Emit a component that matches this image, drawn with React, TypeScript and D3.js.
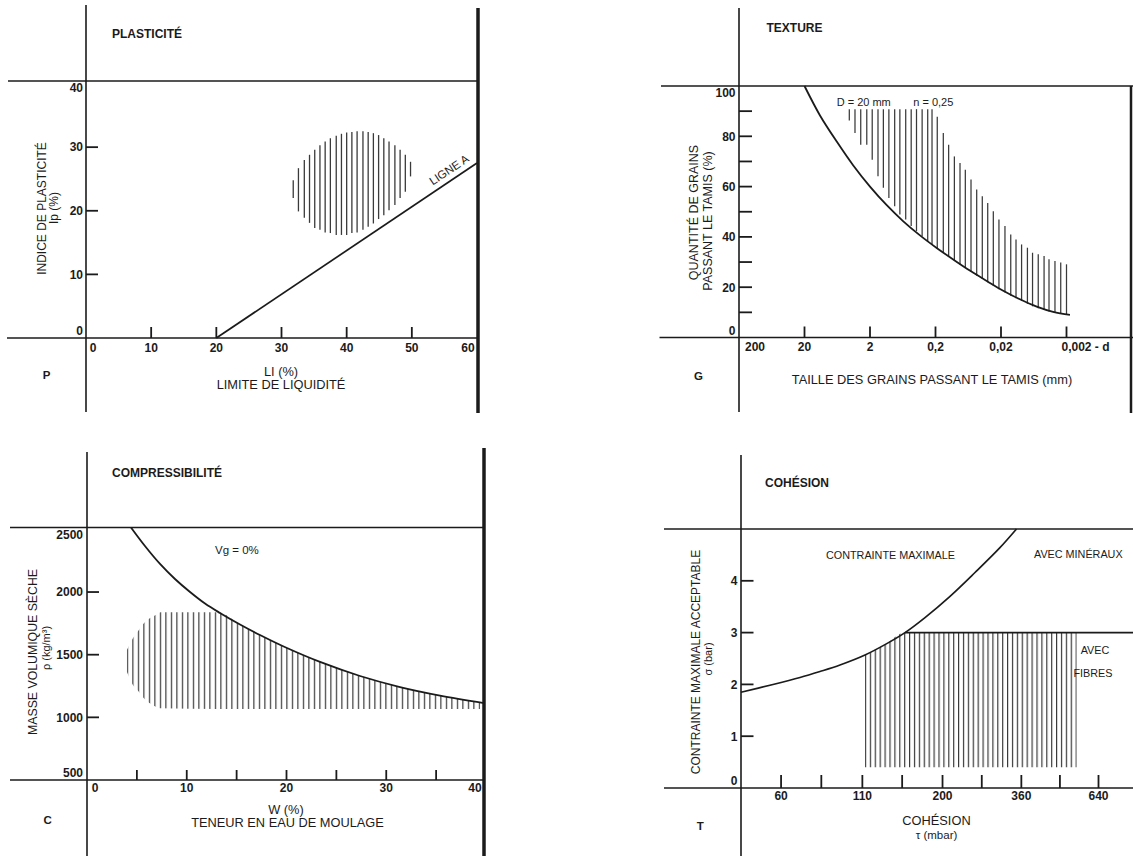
import React from "react";
import * as d3 from "d3";

const FONT = "'Liberation Sans', Arial, Helvetica, sans-serif";
const INK = "#1b1b1b";
const HATCH_INK = "#3a3a3a";

// ===== P : PLASTICITÉ =====
const plastXTicks = [0, 10, 20, 30, 40, 50, 60];
const plastYTicks = [0, 10, 20, 30, 40];
const plastLigneALL = [20, 60];
const plastLigneAIp = [0, 27.5];
const plastHatchLL = [31.8, 32.6, 33.5, 34.3, 35.1, 35.9, 36.7, 37.5, 38.4, 39.2, 40.0, 40.8, 41.6, 42.5, 43.3, 44.1, 44.9, 45.7, 46.5, 47.4, 48.2, 49.0, 49.8];
const plastHatchTop = [24.8, 26.7, 28.0, 28.8, 29.6, 30.3, 30.9, 31.4, 31.8, 32.1, 32.3, 32.4, 32.5, 32.5, 32.4, 32.2, 31.9, 31.4, 30.9, 30.3, 29.6, 28.8, 27.7];
const plastHatchBottom = [22.0, 19.9, 18.9, 18.1, 17.3, 17.0, 16.6, 16.5, 16.2, 16.2, 16.2, 16.5, 16.6, 17.0, 17.5, 18.0, 18.7, 19.3, 20.1, 20.9, 22.0, 23.0, 25.4];

// ===== G : TEXTURE =====
const textureXTicks = [200, 20, 2, 0.2, 0.02, 0.002];
const textureXLabels = ["200", "20", "2", "0,2", "0,02", "0,002 - d"];
const textureYMajor = [0, 20, 40, 60, 80, 100];
const textureYMinor = [10, 30, 50, 70, 90];
const textureCurveD = [20, 11.6, 6.4, 3.6, 2.0, 1.11, 0.62, 0.345, 0.192, 0.107, 0.059, 0.033, 0.0185, 0.0103, 0.0057, 0.0032, 0.00177];
const textureCurveP = [100, 88.3, 77.8, 68.4, 60.0, 52.6, 46.2, 40.6, 35.6, 31.0, 26.5, 22.5, 18.6, 15.2, 12.3, 10.2, 9.0];
const textureHatchD = [4.14, 3.39, 2.77, 2.24, 1.85, 1.51, 1.25, 1.03, 0.84, 0.70, 0.57, 0.47, 0.39, 0.32, 0.263, 0.226, 0.188, 0.152, 0.126, 0.103, 0.0845, 0.0701, 0.0574, 0.047, 0.0386, 0.0319, 0.0262, 0.0215, 0.0174, 0.0142, 0.0118, 0.0097, 0.0079, 0.0066, 0.0054, 0.0044, 0.0037, 0.0030, 0.00245, 0.0020];
const textureHatchTop = [90.8, 90.8, 90.8, 90.8, 90.8, 90.8, 90.8, 90.8, 90.8, 90.8, 90.8, 90.8, 90.8, 90.8, 90.8, 90.8, 87.8, 81.3, 76.6, 72.0, 69.4, 66.7, 62.8, 58.8, 56.2, 53.5, 50.2, 46.9, 44.3, 41.0, 39.0, 37.0, 35.7, 33.7, 33.1, 32.4, 31.1, 30.4, 29.8, 29.1];
const textureHatchBottom = [86.3, 81.3, 76.6, 76.6, 70.7, 64.1, 59.5, 55.5, 52.2, 48.9, 46.9, 44.3, 42.3, 40.3, 38.3, 37.0, 35.5, 33.7, 32.2, 30.6, 29.0, 27.6, 26.0, 24.6, 23.3, 22.0, 20.6, 19.2, 17.9, 16.6, 15.6, 14.5, 13.4, 12.4, 11.6, 10.9, 10.3, 9.8, 9.4, 9.2];

// ===== C : COMPRESSIBILITÉ =====
const compXMajor = [0, 10, 20, 30, 40];
const compXMinor = [5, 15, 25, 35];
const compYTicks = [500, 1000, 1500, 2000, 2500];
const compCurveW = [4.41, 5.81, 7.32, 8.82, 10.33, 11.83, 13.33, 15.34, 17.34, 20.05, 23.36, 27.37, 31.38, 35.39, 39.8];
const compCurveRho = [2515, 2367, 2224, 2104, 2000, 1908, 1833, 1741, 1657, 1553, 1442, 1330, 1242, 1174, 1114];
const compHatchW = [4.0, 4.6, 5.2, 5.7, 6.3, 6.9, 7.4, 13.1, 15.34, 17.34, 20.05, 23.36, 27.37, 31.38, 35.39, 39.4];
const compHatchTop = [1537, 1631, 1697, 1750, 1790, 1817, 1838, 1838, 1741, 1657, 1553, 1442, 1330, 1242, 1174, 1120];
const compHatchBottom = [1364, 1258, 1205, 1152, 1112, 1085, 1072, 1067, 1067, 1067, 1067, 1067, 1067, 1067, 1067, 1067];

// ===== T : COHÉSION =====
const cohXTicks = [60, 110, 200, 360, 640];
const cohXMinor = [81, 148, 268, 480];
const cohYTicks = [0, 1, 2, 3, 4];
const cohCurveTau = [44.5, 55.2, 69.1, 80.2, 93.1, 112.2, 130.2, 151.2, 175.5, 211.5, 254.8, 306.9, 347.2];
const cohCurveSigma = [1.848, 1.983, 2.133, 2.249, 2.375, 2.568, 2.768, 3.0, 3.29, 3.70, 4.16, 4.64, 5.0];
const cohFibreTau = [151.2, 830];
const cohFibreSigma = [3, 3];
const cohHatchTau = [112.2, 130.2, 151.2, 544];
const cohHatchTop = [2.568, 2.768, 3.0, 3.0];
const cohHatchBottom = [0.4, 0.4, 0.4, 0.4];

type P2 = [number, number];
type P3 = [number, number, number];

const Txt = (p: any) => (
  <text fontFamily={FONT} fill={INK} fontSize={p.size ?? 12} fontWeight={p.weight ?? "normal"}
    textAnchor={p.anchor ?? "start"} x={p.x} y={p.y} transform={p.transform}>{p.children}</text>
);
const VTxt = (p: any) => (
  <text fontFamily={FONT} fill={INK} fontSize={p.size ?? 12} fontWeight={p.weight ?? "normal"}
    textAnchor="middle" transform={`translate(${p.x},${p.y}) rotate(-90)`}>{p.children}</text>
);
const Ln = (p: any) => (
  <line x1={p.x1} y1={p.y1} x2={p.x2} y2={p.y2} stroke={INK} strokeWidth={p.w ?? 1.6} />
);

export default function App() {
  const pX = d3.scaleLinear().domain([0, 60]).range([86, 477]);
  const pY = d3.scaleLinear().domain([0, 40.4]).range([338, 81]);
  const gX = d3.scaleLog().domain([200, 0.002]).range([739, 1066.5]);
  const gY = d3.scaleLinear().domain([0, 100]).range([337.5, 86]);
  const cX = d3.scaleLinear().domain([0, 40]).range([87, 486]);
  const cY = d3.scaleLinear().domain([500, 2515]).range([780, 527.5]);
  const tX = d3.scaleLog().domain([44.5, 640]).range([741, 1098.5]);
  const tY = d3.scaleLinear().domain([0, 5]).range([788, 529]);

  const TICK = 12;
  const LBL = 12.8;

  const ligneA = d3.line<P2>().x(d => pX(d[0])).y(d => pY(d[1]))(d3.zip(plastLigneALL, plastLigneAIp) as P2[]);
  const laAngle = Math.atan2(pY(plastLigneAIp[1]) - pY(plastLigneAIp[0]), pX(plastLigneALL[1]) - pX(plastLigneALL[0])) * 180 / Math.PI;
  const laLL = 56.56;
  const laIp = plastLigneAIp[0] + (laLL - plastLigneALL[0]) * (plastLigneAIp[1] - plastLigneAIp[0]) / (plastLigneALL[1] - plastLigneALL[0]);

  const smooth = d3.curveCatmullRom.alpha(0.5);
  const gCurve = d3.line<P2>().x(d => gX(d[0])).y(d => gY(d[1])).curve(smooth)(d3.zip(textureCurveD, textureCurveP) as P2[]);
  const cCurve = d3.line<P2>().x(d => cX(d[0])).y(d => cY(d[1])).curve(smooth)(d3.zip(compCurveW, compCurveRho) as P2[]);
  const cArea = d3.area<P3>().x(d => cX(d[0])).y1(d => cY(d[1])).y0(d => cY(d[2])).curve(d3.curveMonotoneX)(d3.zip(compHatchW, compHatchTop, compHatchBottom) as P3[]);
  const tCurve = d3.line<P2>().x(d => tX(d[0])).y(d => tY(d[1])).curve(smooth)(d3.zip(cohCurveTau, cohCurveSigma) as P2[]);
  const tFibre = d3.line<P2>().x(d => tX(d[0])).y(d => tY(d[1]))(d3.zip(cohFibreTau, cohFibreSigma) as P2[]);
  const tArea = d3.area<P3>().x(d => tX(d[0])).y1(d => tY(d[1])).y0(d => tY(d[2])).curve(d3.curveMonotoneX)(d3.zip(cohHatchTau, cohHatchTop, cohHatchBottom) as P3[]);

  const cStep = 5.5;
  const tStep = 4.9;

  return (
    <svg width={1133} height={856} style={{ position: "absolute", left: 0, top: 0, background: "#fff", display: "block" }}>
      <defs>
        <pattern id="hatchC" patternUnits="userSpaceOnUse" x={cX(compHatchW[0]) - 0.1} y={0} width={cStep} height={10}>
          <rect x={0} y={0} width={1.2} height={10} fill={HATCH_INK} />
        </pattern>
        <pattern id="hatchT" patternUnits="userSpaceOnUse" x={tX(cohHatchTau[0]) - 0.1} y={0} width={tStep} height={10}>
          <rect x={0} y={0} width={1.2} height={10} fill={HATCH_INK} />
        </pattern>
      </defs>
      <rect x={0} y={0} width={1133} height={856} fill="#fff" />

      {/* ================= P : PLASTICITÉ ================= */}
      <g>
        <Ln x1={pX(0)} y1={5} x2={pX(0)} y2={412} />
        <Ln x1={478} y1={8} x2={478} y2={413} w={3.5} />
        <Ln x1={8} y1={pY(40.4)} x2={478} y2={pY(40.4)} />
        <Ln x1={7} y1={pY(0)} x2={478} y2={pY(0)} />
        {plastYTicks.filter(v => v > 0 && v < 40).map(v => (
          <Ln key={"pyt" + v} x1={pX(0)} y1={pY(v)} x2={pX(0) + 12} y2={pY(v)} w={1.8} />
        ))}
        {plastYTicks.map(v => (
          <Txt key={"pyl" + v} x={83} y={(v === 0 ? pY(0) - 7 : v === 40 ? pY(40.4) + 7 : pY(v)) + 4.3} anchor="end" size={TICK} weight="bold">{v}</Txt>
        ))}
        {plastXTicks.filter(v => v > 0 && v < 60).map(v => (
          <Ln key={"pxt" + v} x1={pX(v)} y1={pY(0)} x2={pX(v)} y2={pY(0) - 11} w={1.8} />
        ))}
        {plastXTicks.map(v => (
          <Txt key={"pxl" + v} x={v === 0 ? pX(0) + 7 : v === 60 ? pX(60) - 9 : pX(v)} y={351.5} anchor="middle" size={TICK} weight="bold">{v}</Txt>
        ))}
        <path d={ligneA ?? ""} fill="none" stroke={INK} strokeWidth={1.7} />
        <Txt transform={`translate(${pX(laLL)},${pY(laIp)}) rotate(${laAngle})`} x={0} y={-6} anchor="middle" size={11.5}>LIGNE A</Txt>
        {plastHatchLL.map((v, i) => (
          <line key={"ph" + i} x1={pX(v)} x2={pX(v)} y1={pY(plastHatchTop[i])} y2={pY(plastHatchBottom[i])} stroke={HATCH_INK} strokeWidth={1.3} />
        ))}
        <Txt x={112} y={38.3} size={12} weight="bold">PLASTICITÉ</Txt>
        <Txt x={46.7} y={378.5} size={11.5} weight="bold" anchor="middle">P</Txt>
        <Txt x={281} y={375.5} anchor="middle" size={LBL}>LI (%)</Txt>
        <Txt x={281} y={388.8} anchor="middle" size={LBL}>LIMITE DE LIQUIDITÉ</Txt>
        <VTxt x={46.3} y={208.5} size={12}>INDICE DE PLASTICITÉ</VTxt>
        <VTxt x={57.6} y={208} size={12}>Ip (%)</VTxt>
      </g>

      {/* ================= G : TEXTURE ================= */}
      <g>
        <Ln x1={gX(200)} y1={8} x2={gX(200)} y2={412} />
        <Ln x1={1131} y1={86} x2={1131} y2={413} w={2.5} />
        <Ln x1={661} y1={gY(100)} x2={1133} y2={gY(100)} />
        <Ln x1={659.5} y1={gY(0)} x2={1133} y2={gY(0)} />
        {[...textureYMajor.filter(v => v > 0 && v < 100), ...textureYMinor].map(v => (
          <Ln key={"gyt" + v} x1={gX(200)} y1={gY(v)} x2={gX(200) + 13} y2={gY(v)} w={1.8} />
        ))}
        {textureYMajor.map(v => (
          <Txt key={"gyl" + v} x={735.5} y={(v === 0 ? gY(0) - 7 : v === 100 ? gY(100) + 7 : gY(v)) + 4.3} anchor="end" size={TICK} weight="bold">{v}</Txt>
        ))}
        {textureXTicks.filter(v => v < 200).map(v => (
          <Ln key={"gxt" + v} x1={gX(v)} y1={gY(0)} x2={gX(v)} y2={gY(0) - 11} w={1.8} />
        ))}
        {textureXTicks.map((v, i) => (
          <Txt key={"gxl" + v} x={i === 0 ? gX(v) + 16 : i === textureXTicks.length - 1 ? gX(v) - 5 : gX(v)} y={351}
            anchor={i === textureXTicks.length - 1 ? "start" : "middle"} size={TICK} weight="bold">{textureXLabels[i]}</Txt>
        ))}
        {textureHatchD.map((v, i) => (
          <line key={"gh" + i} x1={gX(v)} x2={gX(v)} y1={gY(textureHatchTop[i])} y2={gY(textureHatchBottom[i])} stroke={HATCH_INK} strokeWidth={1.25} />
        ))}
        <path d={gCurve ?? ""} fill="none" stroke={INK} strokeWidth={1.8} />
        <Txt x={766.5} y={32.3} size={12} weight="bold">TEXTURE</Txt>
        <Txt x={698.6} y={379.5} size={11.5} weight="bold" anchor="middle">G</Txt>
        <Txt x={932} y={383.5} anchor="middle" size={LBL}>TAILLE DES GRAINS PASSANT LE TAMIS (mm)</Txt>
        <Txt x={836.7} y={105.5} size={11}>D = 20 mm</Txt>
        <Txt x={913.3} y={105.5} size={11}>n = 0,25</Txt>
        <VTxt x={698} y={212.5} size={12.5}>QUANTITÉ DE GRAINS</VTxt>
        <VTxt x={712.3} y={221} size={12.5}>PASSANT LE TAMIS (%)</VTxt>
      </g>

      {/* ================= C : COMPRESSIBILITÉ ================= */}
      <g>
        <Ln x1={cX(0)} y1={452} x2={cX(0)} y2={856} />
        <Ln x1={484} y1={448} x2={484} y2={856} w={3.5} />
        <Ln x1={10} y1={cY(2515)} x2={484} y2={cY(2515)} />
        <Ln x1={10} y1={cY(500)} x2={484} y2={cY(500)} />
        {compYTicks.filter(v => v > 500 && v < 2500).map(v => (
          <Ln key={"cyt" + v} x1={cX(0)} y1={cY(v)} x2={cX(0) + 12} y2={cY(v)} w={1.8} />
        ))}
        {compYTicks.map(v => (
          <Txt key={"cyl" + v} x={83} y={(v === 500 ? cY(500) - 7 : v === 2500 ? cY(2500) + 5.5 : cY(v)) + 4.3} anchor="end" size={TICK} weight="bold">{v}</Txt>
        ))}
        {[...compXMajor.filter(v => v > 0 && v < 40), ...compXMinor].map(v => (
          <Ln key={"cxt" + v} x1={cX(v)} y1={cY(500)} x2={cX(v)} y2={cY(500) - 10} w={1.8} />
        ))}
        {compXMajor.map(v => (
          <Txt key={"cxl" + v} x={v === 0 ? cX(0) + 8 : v === 40 ? cX(40) - 11 : cX(v)} y={792} anchor="middle" size={TICK} weight="bold">{v}</Txt>
        ))}
        <path d={cArea ?? ""} fill="url(#hatchC)" stroke="none" />
        <path d={cCurve ?? ""} fill="none" stroke={INK} strokeWidth={1.8} />
        <Txt x={112} y={476.7} size={12} weight="bold">COMPRESSIBILITÉ</Txt>
        <Txt x={215} y={554} size={11.5}>Vg = 0%</Txt>
        <Txt x={47.7} y={823.5} size={11.5} weight="bold" anchor="middle">C</Txt>
        <Txt x={286} y={813.5} anchor="middle" size={LBL}>W (%)</Txt>
        <Txt x={287.5} y={826.8} anchor="middle" size={LBL}>TENEUR EN EAU DE MOULAGE</Txt>
        <VTxt x={37} y={652} size={12.3}>MASSE VOLUMIQUE SÈCHE</VTxt>
        <VTxt x={50} y={648} size={11}>ρ (kg/m³)</VTxt>
      </g>

      {/* ================= T : COHÉSION ================= */}
      <g>
        <Ln x1={tX(44.5)} y1={455} x2={tX(44.5)} y2={856} />
        <Ln x1={664} y1={tY(5)} x2={1133} y2={tY(5)} />
        <Ln x1={664} y1={tY(0)} x2={1133} y2={tY(0)} />
        {cohYTicks.filter(v => v > 0).map(v => (
          <Ln key={"tyt" + v} x1={tX(44.5)} y1={tY(v)} x2={tX(44.5) + 12.5} y2={tY(v)} w={1.8} />
        ))}
        {cohYTicks.map(v => (
          <Txt key={"tyl" + v} x={737.5} y={(v === 0 ? tY(0) - 7 : tY(v)) + 4.3} anchor="end" size={TICK} weight="bold">{v}</Txt>
        ))}
        {[...cohXTicks, ...cohXMinor].map(v => (
          <Ln key={"txt" + v} x1={tX(v)} y1={tY(0)} x2={tX(v)} y2={tY(0) - 13} w={1.8} />
        ))}
        {cohXTicks.map(v => (
          <Txt key={"txl" + v} x={tX(v)} y={799.5} anchor="middle" size={TICK} weight="bold">{v}</Txt>
        ))}
        <path d={tArea ?? ""} fill="url(#hatchT)" stroke="none" />
        <path d={tCurve ?? ""} fill="none" stroke={INK} strokeWidth={1.7} />
        <path d={tFibre ?? ""} fill="none" stroke={INK} strokeWidth={1.7} />
        <Txt x={765} y={486.7} size={12} weight="bold">COHÉSION</Txt>
        <Txt x={700.3} y={830} size={11.5} weight="bold" anchor="middle">T</Txt>
        <Txt x={936.5} y={825} anchor="middle" size={LBL}>COHÉSION</Txt>
        <Txt x={936.5} y={838.5} anchor="middle" size={11.5}>τ (mbar)</Txt>
        <Txt x={826} y={559.3} size={10.8}>CONTRAINTE MAXIMALE</Txt>
        <Txt x={1034} y={557.5} size={10.8}>AVEC MINÉRAUX</Txt>
        <Txt x={1095} y={653.5} anchor="middle" size={10.8}>AVEC</Txt>
        <Txt x={1093} y={677} anchor="middle" size={10.8}>FIBRES</Txt>
        <VTxt x={700.3} y={662} size={12}>CONTRAINTE MAXIMALE ACCEPTABLE</VTxt>
        <VTxt x={712} y={659} size={11}>σ (bar)</VTxt>
      </g>
    </svg>
  );
}
